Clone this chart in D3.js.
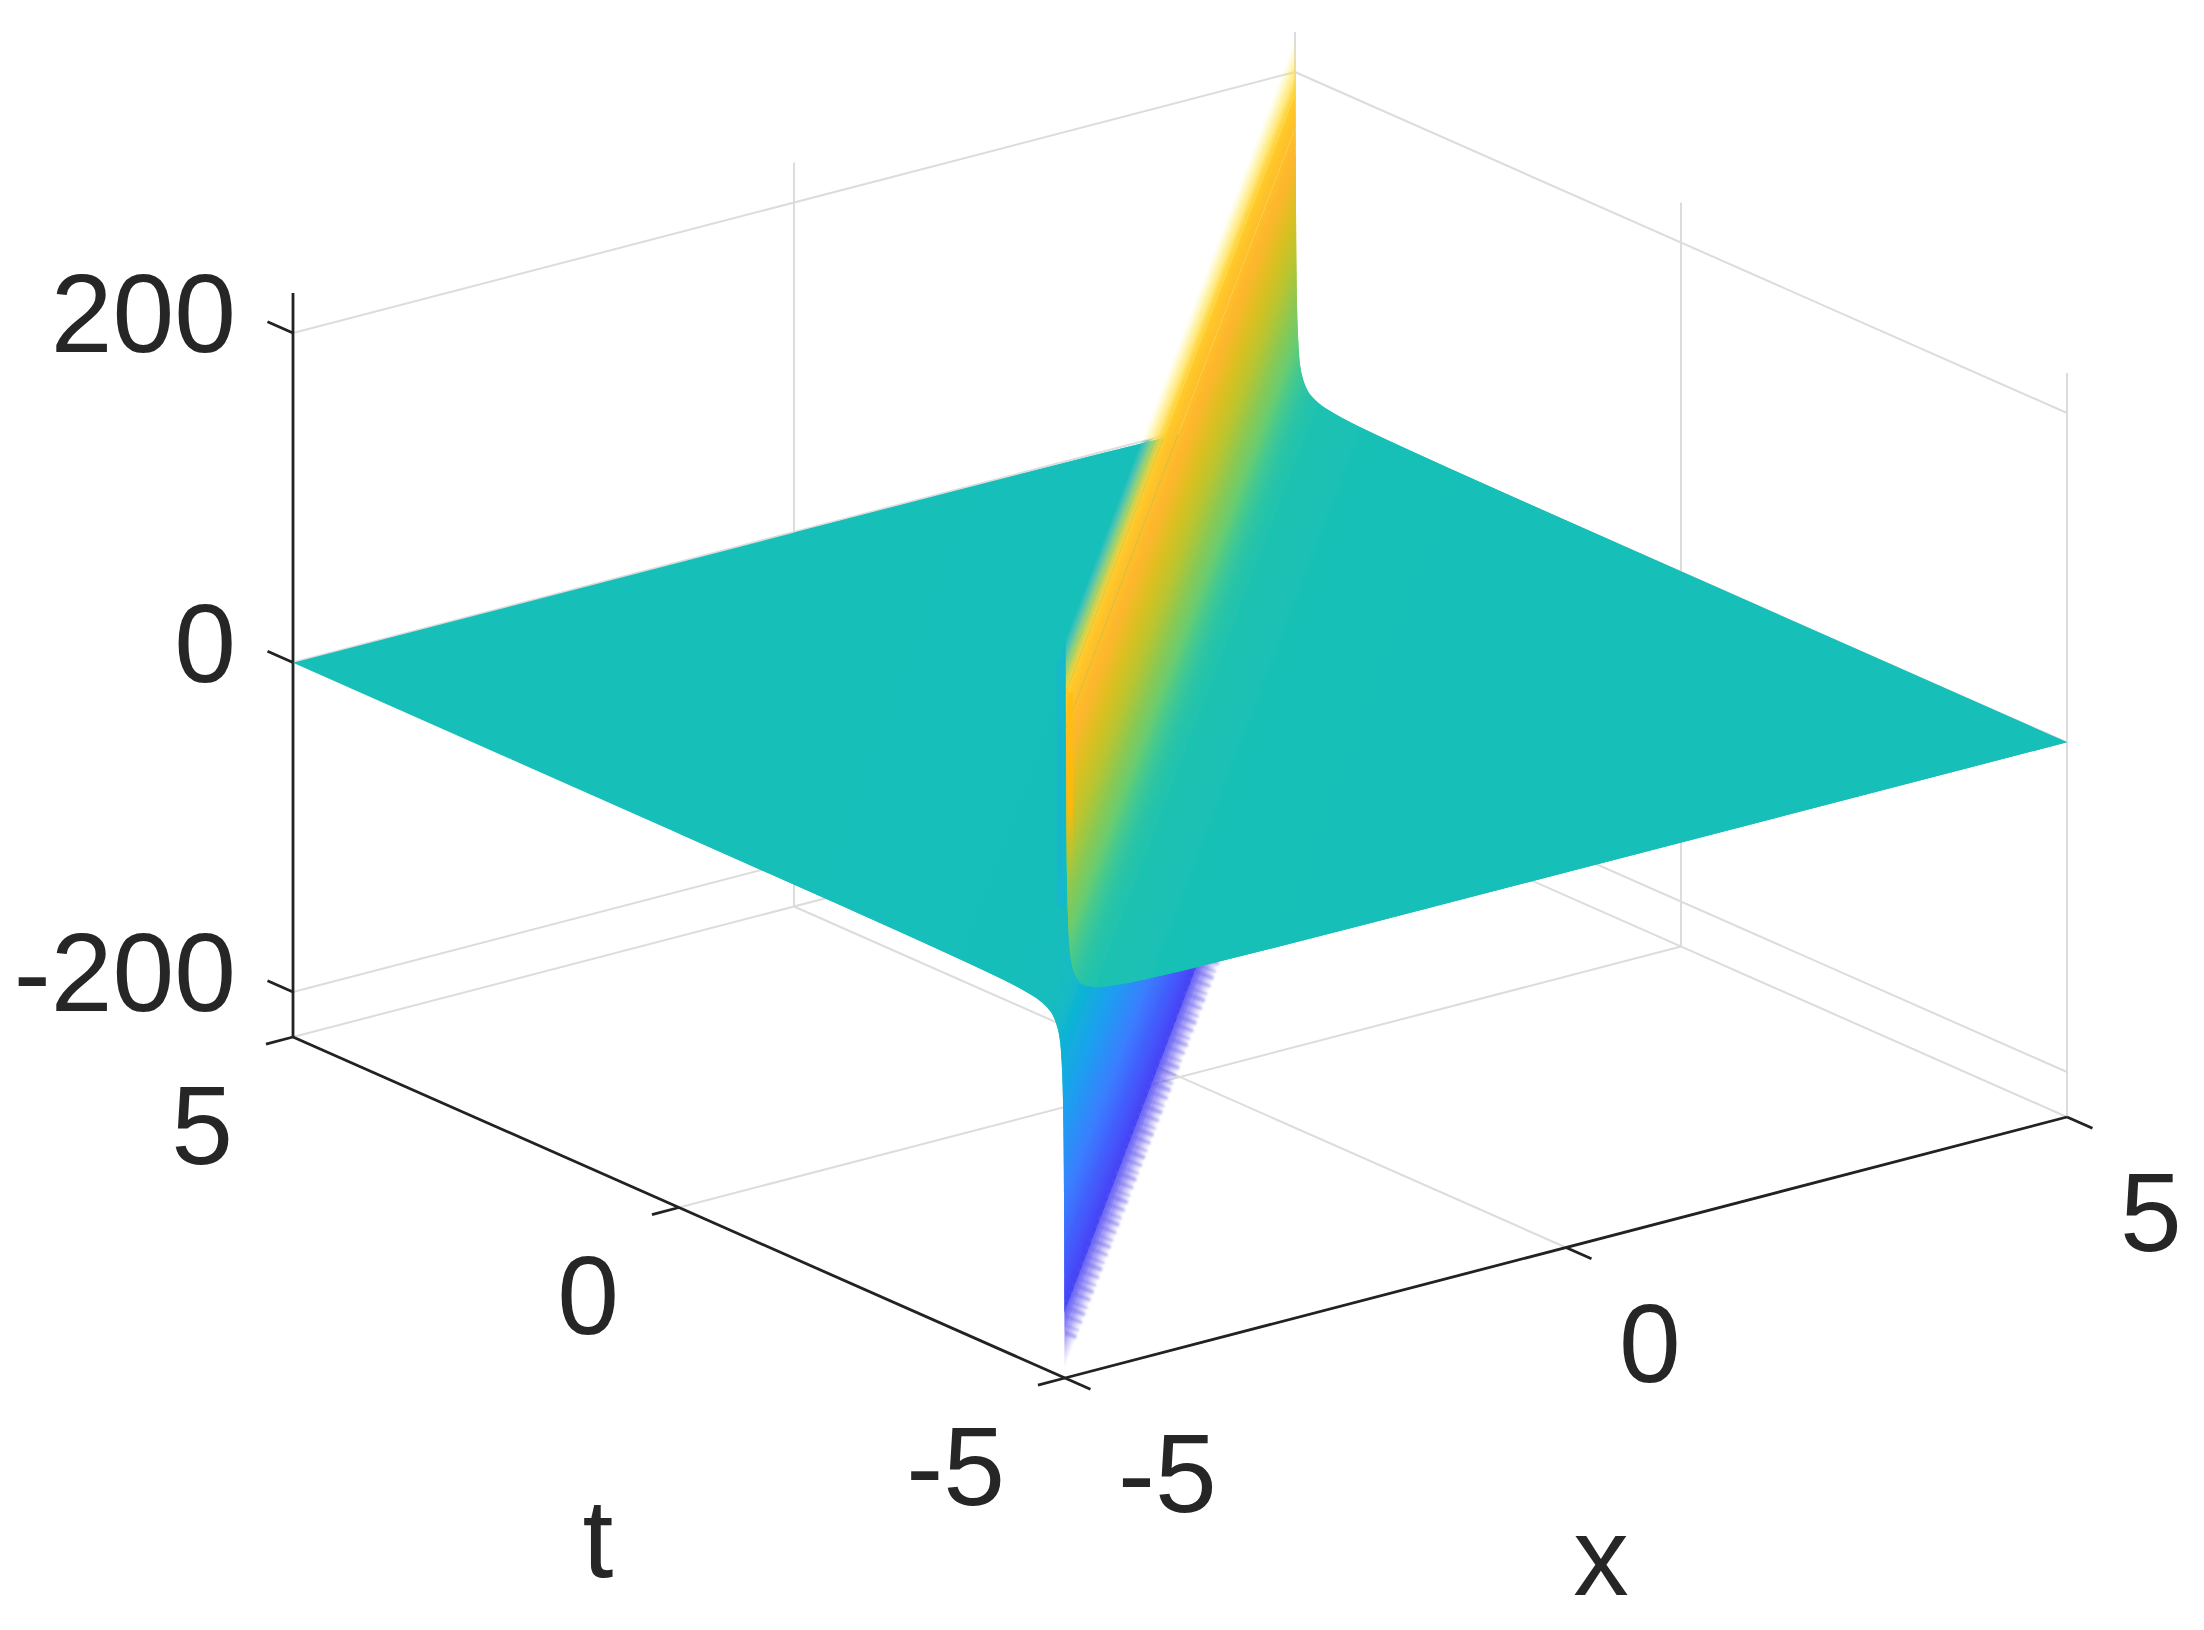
<!DOCTYPE html>
<html>
<head>
<meta charset="utf-8">
<script src="https://cdn.jsdelivr.net/npm/d3@7"></script>
<style>
html,body{margin:0;padding:0;background:#fff}
svg{display:block}
text{font-family:"Liberation Sans",Arial,sans-serif;fill:#262626}
</style>
</head>
<body>
<svg id="chart" width="2204" height="1630" viewBox="0 0 2204 1630"></svg>
<script>
// ---- values ----
const xTicks = [-5, 0, 5];
const tTicks = [-5, 0, 5];
const zTicks = [-200, 0, 200];
const xDomain = [-5, 5];
const tDomain = [-5, 5];
const zDomain = [-227.3, 224.3];

// surface profile across the ridge: offset = x - t, height = u
const negOffsets = [-10, -5, -3, -2, -1.2, -0.8, -0.6, -0.4, -0.3, -0.2, -0.15, -0.1, -0.075, -0.06, -0.05, -0.0375, -0.03, -0.025, -0.02, -0.0175, -0.015, -0.0125, -0.0115, -0.01, -0.009, -0.008, -0.0075, -0.0068];
const negHeights = [-0.15, -0.3, -0.5, -0.75, -1.25, -1.9, -2.5, -3.8, -5, -7.5, -10, -15, -20, -25, -30, -40, -50, -60, -75, -86, -100, -120, -130, -150, -167, -188, -200, -222];
const posOffsets = [0.0066, 0.0075, 0.008, 0.009, 0.01, 0.0115, 0.0125, 0.015, 0.0175, 0.02, 0.025, 0.03, 0.0375, 0.05, 0.06, 0.075, 0.1, 0.15, 0.2, 0.3, 0.4, 0.6, 0.8, 1.2, 2, 3, 5, 10];
const posHeights = [222, 200, 188, 167, 150, 130, 120, 100, 86, 75, 60, 50, 40, 30, 25, 20, 15, 10, 7.5, 5, 3.8, 2.5, 1.9, 1.25, 0.75, 0.5, 0.3, 0.15];

// colour bar as seen on the surface
const colorLevels = [-228, -205, -170, -120, -70, -30, 0, 3, 10, 25, 40, 65, 90, 120, 150, 180, 205, 228];
const colorValues = ["#6a5cf2", "#4030ee", "#4650fa", "#3a7eff", "#1c9ff0", "#0fb2d6", "#17bfb8", "#1bc1b3", "#2ac4a6", "#48c98c", "#68cc70", "#8ec850", "#b8c530", "#dcbf20", "#fdb62e", "#ffc528", "#ffe23e", "#fff78a"];
const fadeLevels = [-222, -180, 188, 222];
const fadeValues = [0, 1, 1, 0];

// ---- scales ----
const svg = d3.select("#chart");
const originX = 1065, originY = 1378;
const xToSx = d3.scaleLinear().domain(xDomain).range([0, 1002]);
const xToSy = d3.scaleLinear().domain(xDomain).range([0, -261]);
const tToSx = d3.scaleLinear().domain(tDomain).range([0, -772]);
const tToSy = d3.scaleLinear().domain(tDomain).range([0, -341]);
const zToSy = d3.scaleLinear().domain(zDomain).range([0, -744]);
const color = d3.scaleLinear().domain(colorLevels).range(colorValues).interpolate(d3.interpolateRgb).clamp(true);
const fade = d3.scaleLinear().domain(fadeLevels).range(fadeValues).clamp(true);

const P = (x, t, z) => [originX + xToSx(x) + tToSx(t), originY + xToSy(x) + tToSy(t) + zToSy(z)];
const [xMin, xMax] = xDomain, [tMin, tMax] = tDomain, [zMin, zMax] = zDomain;
const line = d3.line();
const defs = svg.append("defs");

const soft = defs.append("filter").attr("id", "soft").attr("filterUnits", "userSpaceOnUse")
  .attr("x", 0).attr("y", 0).attr("width", 2204).attr("height", 1630);
soft.append("feGaussianBlur").attr("stdDeviation", 0.6);
const halo = defs.append("filter").attr("id", "halo").attr("filterUnits", "userSpaceOnUse")
  .attr("x", 0).attr("y", 0).attr("width", 2204).attr("height", 1630);
halo.append("feGaussianBlur").attr("stdDeviation", 1.5);
const fringeBlur = defs.append("filter").attr("id", "fringeBlur").attr("filterUnits", "userSpaceOnUse")
  .attr("x", 0).attr("y", 0).attr("width", 2204).attr("height", 1630);
fringeBlur.append("feGaussianBlur").attr("stdDeviation", 1.2);
defs.append("clipPath").attr("id", "leftHalf").append("path")
  .attr("d", line([P(xMin, tMax, 0), P(xMax, tMax, 0), P(xMin, tMin, 0)]) + "Z");
defs.append("clipPath").attr("id", "lowerSheet").append("path")
  .attr("d", line([P(xMin, tMin, 0), P(xMax, tMax, 0), P(xMax, tMax, zMin), P(xMin, tMin, zMin)]) + "Z");

const root = svg.append("g").attr("filter", "url(#soft)");

// ---- box grid ----
const gridG = root.append("g").attr("fill", "none").attr("stroke", "#dcdcdc").attr("stroke-width", 2);
const seg = (g, a, b) => g.append("path").attr("d", line([a, b]));
zTicks.forEach(z => {
  seg(gridG, P(xMin, tMax, z), P(xMax, tMax, z));
  seg(gridG, P(xMax, tMax, z), P(xMax, tMin, z));
});
xTicks.forEach(x => {
  seg(gridG, P(x, tMax, zMin), P(x, tMax, zMax));
  seg(gridG, P(x, tMin, zMin), P(x, tMax, zMin));
});
tTicks.forEach(t => {
  seg(gridG, P(xMax, t, zMin), P(xMax, t, zMax));
  seg(gridG, P(xMin, t, zMin), P(xMax, t, zMin));
});

// ---- axes ----
const axisG = root.append("g").attr("fill", "none").attr("stroke", "#222").attr("stroke-width", 2.8);
seg(axisG, P(xMin, tMin, zMin), P(xMax, tMin, zMin));
seg(axisG, P(xMin, tMin, zMin), P(xMin, tMax, zMin));
seg(axisG, P(xMin, tMax, zMin), P(xMin, tMax, zMax));
xTicks.forEach(x => seg(axisG, P(x, tMin, zMin), P(x, tMin - 0.33, zMin)));
tTicks.forEach(t => seg(axisG, P(xMin, t, zMin), P(xMin - 0.27, t, zMin)));
zTicks.forEach(z => seg(axisG, P(xMin, tMax, z), P(xMin, tMax + 0.33, z)));

// ---- surface, painted from far to near as strips of equal x - t ----
const ends = d => d >= 0
  ? [[tMin + d, tMin], [xMax, xMax - d]]
  : [[xMin, xMin - d], [tMax + d, tMax]];
const surfG = root.append("g");
let gradId = 0;
const stopSteps = d3.range(5);
function strip(d1, z1, d2, z2, d3v, z3) {
  const [a1, a2] = ends(d1), [b1, b2] = ends(d2);
  const A1 = P(a1[0], a1[1], z1), A2 = P(a2[0], a2[1], z1);
  const B1 = P(b1[0], b1[1], z2), B2 = P(b2[0], b2[1], z2);
  let dx = A2[0] - A1[0], dy = A2[1] - A1[1];
  const len = Math.hypot(dx, dy) || 1; dx /= len; dy /= len;
  const vx = B1[0] - A1[0], vy = B1[1] - A1[1];
  const along = vx * dx + vy * dy;
  const px = vx - along * dx, py = vy - along * dy;
  const id = "g" + (gradId++);
  const grad = defs.append("linearGradient").attr("id", id).attr("gradientUnits", "userSpaceOnUse")
    .attr("x1", A1[0]).attr("y1", A1[1]).attr("x2", A1[0] + px).attr("y2", A1[1] + py);
  stopSteps.forEach(i => {
    const f = i / 4, z = z1 + (z2 - z1) * f;
    grad.append("stop").attr("offset", f).attr("stop-color", color(z)).attr("stop-opacity", fade(z));
  });
  // opaque strips run on underneath the next strip, so no seam shows between them
  let C1 = B1, C2 = B2;
  if (d3v !== undefined && Math.abs(z1) < 175 && Math.abs(z2) < 175) {
    const [c1, c2] = ends(d3v);
    C1 = P(c1[0], c1[1], z3); C2 = P(c2[0], c2[1], z3);
  }
  surfG.append("path")
    .attr("d", line([A1, A2, C2, C1]) + "Z")
    .attr("fill", `url(#${id})`);
}
for (let i = 0; i < negOffsets.length - 1; i++) strip(negOffsets[i], negHeights[i], negOffsets[i + 1], negHeights[i + 1], negOffsets[i + 2], negHeights[i + 2]);

// saw-toothed fringe along the lower crest
const crestLow = d3.min(negHeights) + 20;
surfG.append("g").attr("clip-path", "url(#lowerSheet)").append("path")
  .attr("d", line([P(xMin + 0.02, tMin + 0.02, crestLow), P(xMax, tMax, crestLow)]))
  .attr("fill", "none").attr("stroke", "#7066ee").attr("stroke-opacity", 0.45)
  .attr("stroke-width", 22).attr("stroke-dasharray", "4 4 2 6 3 5")
  .attr("filter", "url(#fringeBlur)");

// faint bluish rim where the ridge stands in front of the left half
const crestHigh = 205, rimShift = 0.04, rimFoot = 60;
surfG.append("g").attr("clip-path", "url(#leftHalf)").append("path")
  .attr("d", line([P(xMin - rimShift, tMin, rimFoot), P(xMin - rimShift, tMin, crestHigh), P(xMax - rimShift, tMax, crestHigh)]))
  .attr("fill", "none").attr("stroke", "#0db4d6").attr("stroke-opacity", 0.7)
  .attr("stroke-width", 7).attr("filter", "url(#halo)");

for (let i = 0; i < posOffsets.length - 1; i++) strip(posOffsets[i], posHeights[i], posOffsets[i + 1], posHeights[i + 1], posOffsets[i + 2], posHeights[i + 2]);

// bright sliver at the corner where the ridge meets the t = -5 edge
const sliverTop = 188, sliverFoot = 70, sliverShift = 0.05;
const pTop = P(xMin + sliverShift, tMin, sliverTop), pFoot = P(xMin + sliverShift, tMin, sliverFoot);
const sliverGrad = defs.append("linearGradient").attr("id", "sliver").attr("gradientUnits", "userSpaceOnUse")
  .attr("x1", pTop[0]).attr("y1", pTop[1]).attr("x2", pFoot[0] + 0.01).attr("y2", pFoot[1]);
sliverGrad.append("stop").attr("offset", 0).attr("stop-color", "#ffbe14").attr("stop-opacity", 0.9);
sliverGrad.append("stop").attr("offset", 0.6).attr("stop-color", "#ffb80a").attr("stop-opacity", 0.9);
sliverGrad.append("stop").attr("offset", 1).attr("stop-color", "#9ac840").attr("stop-opacity", 0);
surfG.append("path").attr("d", line([pTop, pFoot])).attr("fill", "none")
  .attr("stroke", "url(#sliver)").attr("stroke-width", 6);

// ---- tick labels ----
const fontSize = 111;
const labelG = root.append("g").attr("font-size", fontSize);
const fmt = d3.format("d");
const hy = v => fmt(v).replace("\u2212", "-");
zTicks.forEach(z => {
  const p = P(xMin, tMax, z);
  labelG.append("text").attr("x", p[0] - 57).attr("y", p[1] + 19).attr("text-anchor", "end").text(hy(z));
});
tTicks.forEach(t => {
  const p = P(xMin, t, zMin);
  labelG.append("text").attr("x", p[0] - 60).attr("y", p[1] + 126.5).attr("text-anchor", "end").text(hy(t));
});
xTicks.forEach(x => {
  const p = P(x, tMin, zMin);
  labelG.append("text").attr("x", p[0] + 53).attr("y", p[1] + 134).attr("text-anchor", "start").text(hy(x));
});

// ---- axis titles ----
labelG.append("text").attr("x", 598).attr("y", 1577).attr("text-anchor", "middle").text("t");
labelG.append("text").attr("x", 1601).attr("y", 1595).attr("text-anchor", "middle").text("x");
</script>
</body>
</html>
